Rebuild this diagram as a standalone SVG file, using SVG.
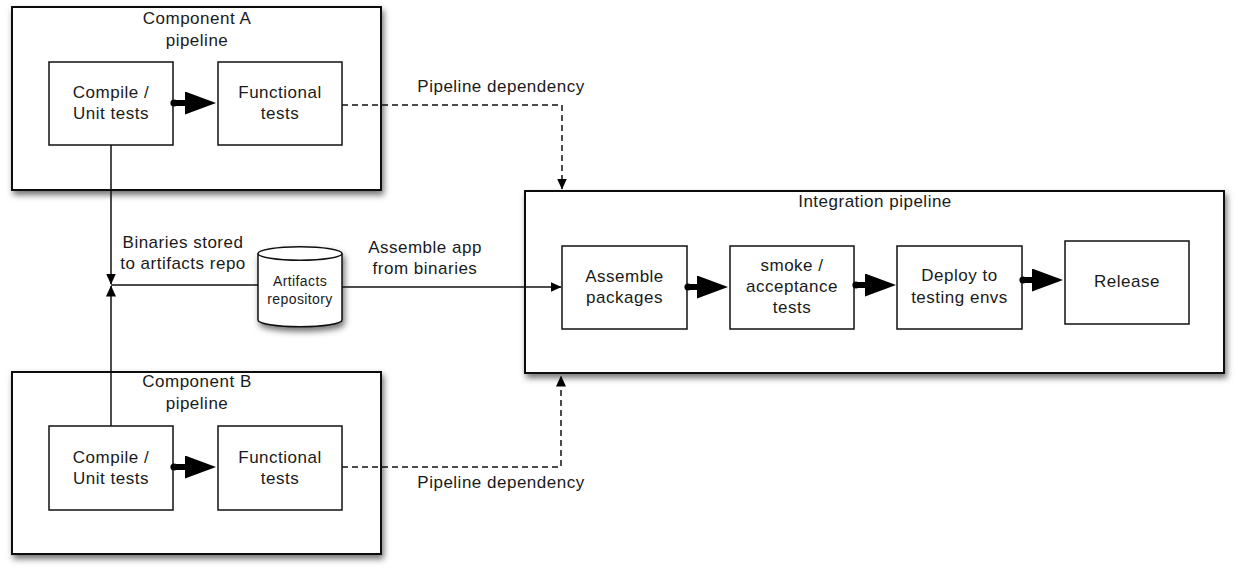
<svg xmlns="http://www.w3.org/2000/svg" width="1238" height="576" viewBox="0 0 1238 576">
<style>
text{font-family:"Liberation Sans",Arial,Helvetica,sans-serif;font-size:17px;letter-spacing:0.5px;fill:#1a1a1a;text-anchor:middle}
.small{font-size:14px;letter-spacing:0.4px}
.outer{fill:#fff;stroke:#111;stroke-width:2;filter:url(#sh)}
.inner{fill:#fff;stroke:#111;stroke-width:1.5}
.ln{fill:none;stroke:#111;stroke-width:1.5}
.dash{fill:none;stroke:#111;stroke-width:1.5;stroke-dasharray:6 4}
.thick{fill:none;stroke:#000;stroke-width:6;marker-start:url(#dot);marker-end:url(#big)}
</style>
<defs>
<filter id="sh" x="-10%" y="-10%" width="130%" height="130%">
<feDropShadow dx="2" dy="4" stdDeviation="3" flood-color="#000" flood-opacity="0.55"/>
</filter>
<marker id="big" viewBox="0 0 31 23" refX="16" refY="11.5" markerWidth="31" markerHeight="23" markerUnits="userSpaceOnUse" orient="auto">
<path d="M0,0 L31,11.5 L0,23 z" fill="#000"/>
</marker>
<marker id="dot" viewBox="0 0 8 8" refX="4" refY="4" markerWidth="8" markerHeight="8" markerUnits="userSpaceOnUse" orient="auto">
<circle cx="4" cy="4" r="3.6" fill="#000"/>
</marker>
<marker id="arr" viewBox="0 0 11 10" refX="10.5" refY="5" markerWidth="11" markerHeight="10" markerUnits="userSpaceOnUse" orient="auto">
<path d="M0,0 L11,5 L0,10 z" fill="#000"/>
</marker>
</defs>

<g id="compA">
<rect class="outer" x="12" y="7" width="369" height="183"/>
<text x="197" y="24">Component A</text>
<text x="197" y="46">pipeline</text>
</g>
<g id="compB">
<rect class="outer" x="12" y="372" width="369" height="182"/>
<text x="197" y="387">Component B</text>
<text x="197" y="409">pipeline</text>
</g>
<g id="integ">
<rect class="outer" x="525" y="191" width="699" height="182"/>
<text x="875" y="207">Integration pipeline</text>
</g>

<g id="compileA">
<rect class="inner" x="49" y="62" width="124" height="83"/>
<text x="111" y="98">Compile /</text>
<text x="111" y="119">Unit tests</text>
</g>
<g id="funcA">
<rect class="inner" x="218" y="62" width="124" height="83"/>
<text x="280" y="98">Functional</text>
<text x="280" y="119">tests</text>
</g>
<g id="compileB">
<rect class="inner" x="49" y="426" width="124" height="84"/>
<text x="111" y="463">Compile /</text>
<text x="111" y="484">Unit tests</text>
</g>
<g id="funcB">
<rect class="inner" x="218" y="426" width="124" height="84"/>
<text x="280" y="463">Functional</text>
<text x="280" y="484">tests</text>
</g>

<g id="artifacts">
<path d="M258,253.5 L258,320 A42,6.8 0 0 0 342,320 L342,253.5 A42,6.8 0 0 0 258,253.5 Z" fill="#fff" stroke="#111" stroke-width="1.5" filter="url(#sh)"/>
<path d="M258,253.5 A42,6.8 0 0 0 342,253.5" fill="none" stroke="#111" stroke-width="1.5"/>
<text class="small" x="300" y="286">Artifacts</text>
<text class="small" x="300" y="304">repository</text>
</g>

<g id="assemble">
<rect class="inner" x="562" y="246" width="125" height="83"/>
<text x="624.5" y="282">Assemble</text>
<text x="624.5" y="303">packages</text>
</g>
<g id="smoke">
<rect class="inner" x="730" y="246" width="124" height="83"/>
<text x="792" y="271">smoke /</text>
<text x="792" y="292">acceptance</text>
<text x="792" y="313">tests</text>
</g>
<g id="deploy">
<rect class="inner" x="897" y="246" width="125" height="83"/>
<text x="959.5" y="281">Deploy to</text>
<text x="959.5" y="303">testing envs</text>
</g>
<g id="release">
<rect class="inner" x="1065" y="241" width="124" height="83"/>
<text x="1127" y="287">Release</text>
</g>

<g id="connectors">
<line class="thick" x1="174" y1="103" x2="201" y2="103"/>
<line class="thick" x1="174" y1="467" x2="201" y2="467"/>
<line class="thick" x1="688" y1="287" x2="713" y2="287"/>
<line class="thick" x1="856" y1="285" x2="881" y2="285"/>
<line class="thick" x1="1023" y1="280" x2="1048" y2="280"/>

<line class="ln" x1="111" y1="145" x2="111" y2="284" marker-end="url(#arr)"/>
<line class="ln" x1="111" y1="426" x2="111" y2="286" marker-end="url(#arr)"/>
<line class="ln" x1="111" y1="285" x2="258" y2="285"/>
<line class="ln" x1="342" y1="287" x2="561" y2="287" marker-end="url(#arr)"/>

<path class="dash" d="M342,105 L562,105 L562,189" marker-end="url(#arr)"/>
<path class="dash" d="M342,467 L561,467 L561,376" marker-end="url(#arr)"/>

<text x="183" y="248">Binaries stored</text>
<text x="183" y="269">to artifacts repo</text>
<text x="425" y="253">Assemble app</text>
<text x="425" y="274">from binaries</text>
<text x="501" y="92">Pipeline dependency</text>
<text x="501" y="488">Pipeline dependency</text>
</g>
</svg>
